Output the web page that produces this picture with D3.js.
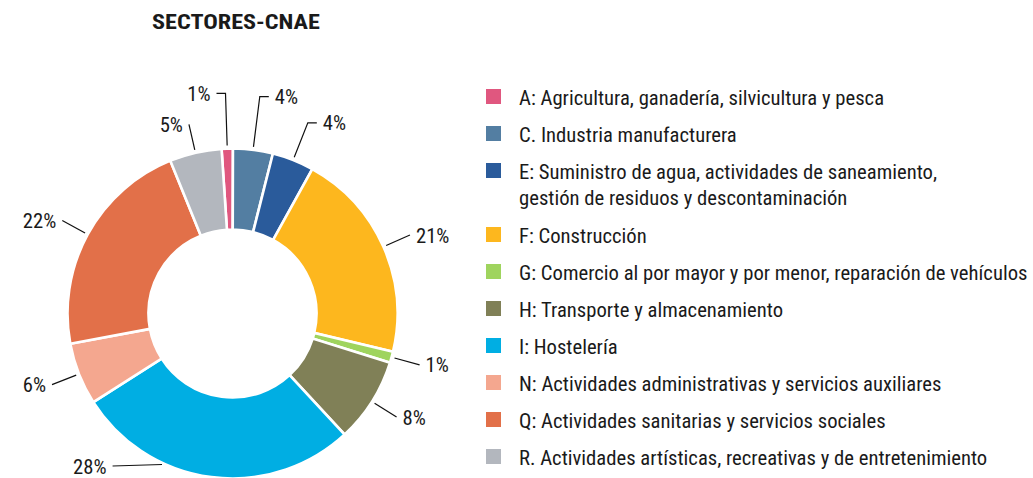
<!DOCTYPE html>
<html>
<head>
<meta charset="utf-8">
<script src="https://cdn.jsdelivr.net/npm/d3@7"></script>
<style>
  html, body { margin: 0; padding: 0; background: #fff; }
  svg { display: block; }
  text { font-family: "Liberation Sans Narrow", "Roboto Condensed", "Arial Narrow", Roboto, "Liberation Sans", sans-serif; fill: #1a1a1a; }
</style>
</head>
<body>
<svg id="chart" width="1033" height="478"></svg>
<script>
// ---- data ----
const title = "SECTORES-CNAE";
const categories = [
  "A: Agricultura, ganadería, silvicultura y pesca",
  "C. Industria manufacturera",
  "E: Suministro de agua, actividades de saneamiento,\ngestión de residuos y descontaminación",
  "F: Construcción",
  "G: Comercio al por mayor y por menor, reparación de vehículos",
  "H: Transporte y almacenamiento",
  "I: Hostelería",
  "N: Actividades administrativas y servicios auxiliares",
  "Q: Actividades sanitarias y servicios sociales",
  "R. Actividades artísticas, recreativas y de entretenimiento"
];
const values = [1.1, 3.9, 4.1, 20.7, 1.1, 8.3, 27.9, 6.1, 21.8, 5.1];
const colors = ["#e0577f", "#537ea2", "#2a5b9b", "#fdb71e", "#9fd45e", "#808057", "#00aee3", "#f4a78f", "#e27049", "#b3b7be"];

// ---- layout ----
const W = 1033, H = 478;
const cx = 232.5, cy = 313.5;
const outerR = 165, innerR = 84;
const startAngle = -3.8 * Math.PI / 180;
const fontSize = 20;

const svg = d3.select("#chart");

const total = d3.sum(values);
const pie = d3.pie().sort(null).value(d => d)
  .startAngle(startAngle).endAngle(startAngle + 2 * Math.PI);
const arcs = pie(values);
const arc = d3.arc().innerRadius(innerR).outerRadius(outerR);
const color = d3.scaleOrdinal().domain(d3.range(values.length)).range(colors);
const pctFmt = d3.format(".0%");

const g = svg.append("g").attr("transform", `translate(${cx},${cy})`);
g.selectAll("path.slice").data(arcs).join("path")
  .attr("class", "slice")
  .attr("d", arc)
  .attr("fill", (d, i) => color(i))
  .attr("stroke", "#fff")
  .attr("stroke-width", 2.6)
  .attr("stroke-linejoin", "miter");

// ---- leader lines and percentage labels ----
const r1 = outerR + 3, r2 = outerR + 29;
const limY = (H - 12) - cy;
const deg = Math.PI / 180;
const labelData = arcs.map((d, i) => {
  const a = (d.startAngle + d.endAngle) / 2;
  const s = Math.sin(a), c = Math.cos(a);
  const side = s < 0 ? -1 : 1;
  // labels crowded around 12 o'clock get a longer leader with a short elbow
  const top = (a > -6 * deg && a < 25 * deg);
  const rr = top ? outerR + 40 + 220 * (c - 0.93) : r2;
  let p1 = [r1 * s, -r1 * c];
  let p2 = [rr * s, -rr * c];
  if (p2[1] > limY) {
    p1 = [side * Math.sqrt(r1 * r1 - limY * limY), limY - 1.5];
    p2 = [side * Math.sqrt(rr * rr - limY * limY), limY];
  }
  const pts = [p1, p2];
  if (top) pts.push([p2[0] + side * 9, p2[1]]);
  const end = pts[pts.length - 1];
  return { pts, side, tx: end[0] + side * 6, ty: end[1], text: pctFmt(d.value / total) };
});

g.selectAll("polyline.leader").data(labelData).join("polyline")
  .attr("class", "leader")
  .attr("points", d => d.pts.map(p => p.join(",")).join(" "))
  .attr("fill", "none")
  .attr("stroke", "#111")
  .attr("stroke-width", 1.2);

const pctLabels = g.selectAll("text.pct").data(labelData).join("text")
  .attr("class", "pct")
  .attr("font-size", fontSize)
  .attr("text-anchor", d => d.side < 0 ? "end" : "start")
  .text(d => d.text);

// ---- legend ----
const legX = 486, sq = 15, textX = 519, rowY0 = 96.5, rowStep = 37, lineH = 27;
let yAcc = rowY0;
const legRows = categories.map((c, i) => {
  const lines = c.split("\n");
  const row = { i, lines, y: yAcc };
  yAcc += rowStep + (lines.length - 1) * lineH;
  return row;
});
const leg = svg.append("g").attr("class", "legend");
leg.selectAll("rect").data(legRows).join("rect")
  .attr("x", legX).attr("y", d => d.y - sq / 2)
  .attr("width", sq).attr("height", sq)
  .attr("fill", d => color(d.i));
const legTexts = leg.selectAll("text").data(legRows).join("text")
  .attr("font-size", fontSize);
legTexts.each(function(d) {
  const t = d3.select(this);
  d.lines.forEach((ln, k) => {
    t.append("tspan").attr("x", 0).attr("y", k * lineH).text(ln);
  });
});

// condensed width fitting: reference "G" line spans ~509px
const gNode = legTexts.filter(d => d.i === 4).node();
const natural = gNode.getComputedTextLength();
const sx = natural > 0 ? 509 / natural : 1;
legTexts.attr("transform", d => `translate(${textX},${d.y + 8}) scale(${sx},1)`);
pctLabels.attr("transform", d => `translate(${d.tx},${d.ty + 7.5}) scale(${sx},1)`);

// ---- title ----
const tt = svg.append("text")
  .attr("font-size", 21)
  .attr("font-weight", "bold")
  .attr("text-anchor", "middle")
  .text(title);
const tw = tt.node().getComputedTextLength();
const tsx = tw > 0 ? 168 / tw : 1;
tt.attr("transform", `translate(236,28.5) scale(${tsx},1)`);
</script>
</body>
</html>
